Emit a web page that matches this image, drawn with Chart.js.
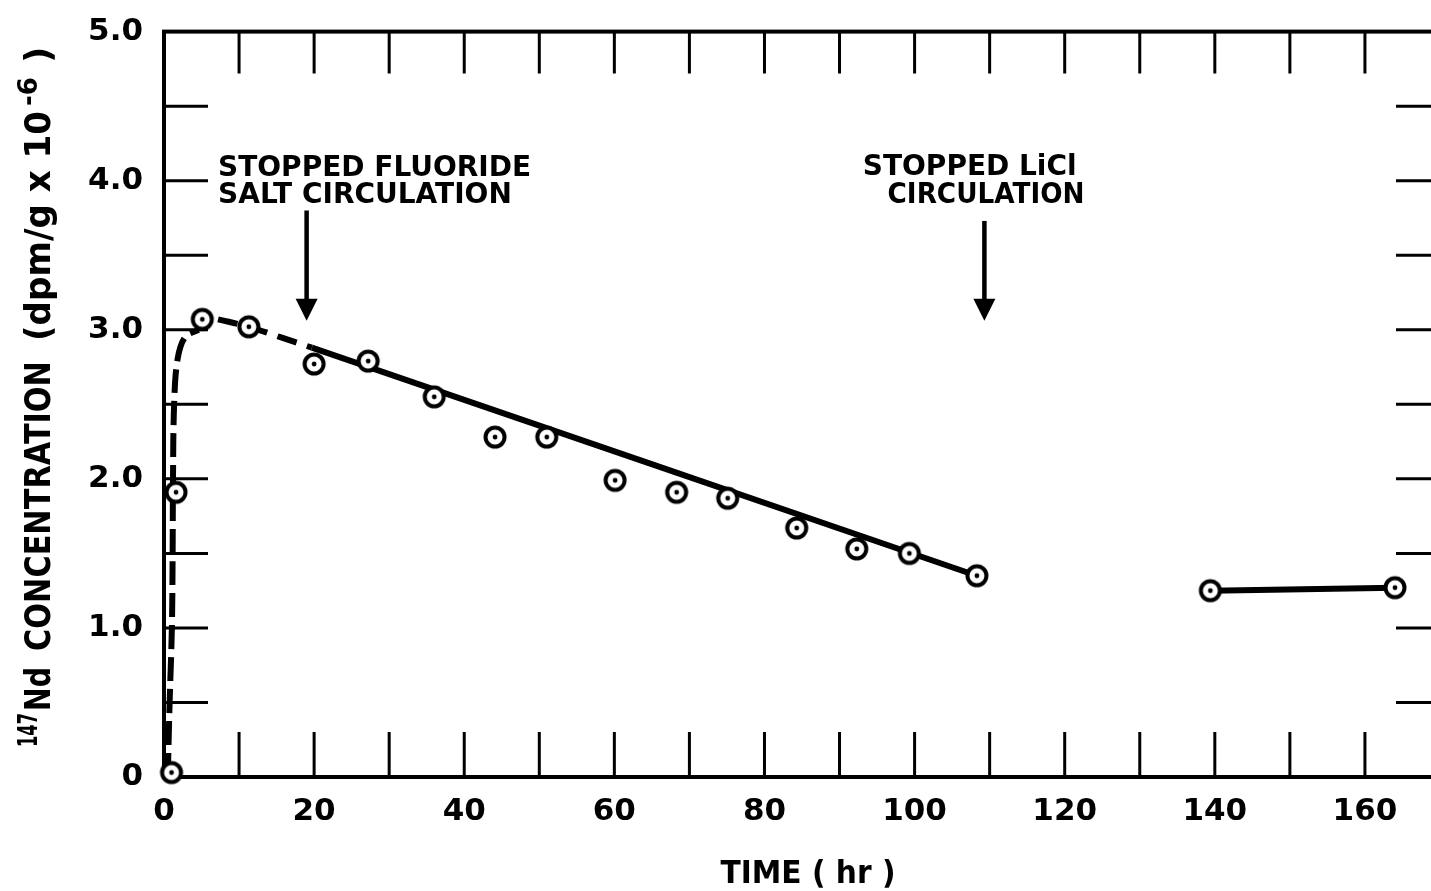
<!DOCTYPE html>
<html>
<head>
<meta charset="utf-8">
<title>147Nd concentration vs time</title>
<script src="https://cdn.jsdelivr.net/npm/chart.js@4.4.1/dist/chart.umd.min.js"></script>
<style>
  html, body { margin: 0; padding: 0; background: #fff; overflow: hidden; }
  #wrap { width: 1460px; height: 891px; }
</style>
</head>
<body>
<div id="wrap"><canvas id="ndChart" width="1460" height="891"></canvas></div>
<script>
// ==========================================
// Sampled 147Nd concentration (dpm/g x 10^-6) against time (hr)
// ==========================================
const sampleHours = [1.0, 1.6, 5.1, 11.3, 20.0, 27.2, 36.0, 44.1, 51.0, 60.1, 68.3, 75.1, 84.3, 92.3, 99.3, 108.3, 139.4, 164.0];
const sampleConc  = [0.03, 1.91, 3.07, 3.02, 2.77, 2.79, 2.55, 2.28, 2.28, 1.99, 1.91, 1.87, 1.67, 1.53, 1.50, 1.35, 1.25, 1.27];

// hand-drawn curves through the samples
const riseHours  = [0.5, 0.75, 1.05, 1.15, 1.2, 1.35, 1.8, 2.8, 4.6];
const riseConc   = [0.0, 0.5, 1.0, 1.5, 2.0, 2.5, 2.8, 2.95, 3.0];
const earlyHours = [7.2, 11.3, 15.5, 19.7];
const earlyConc  = [3.07, 3.02, 2.95, 2.88];
const decayHours = [19.7, 108.3];
const decayConc  = [2.88, 1.35];
const lateHours  = [139.4, 164.0];
const lateConc   = [1.25, 1.27];

// axis labels
const xLabelValues = [0, 20, 40, 60, 80, 100, 120, 140, 160];
const yLabelValues = [0, 1, 2, 3, 4, 5];
const yLabelText   = ['0', '1.0', '2.0', '3.0', '4.0', '5.0'];

// notes with arrows (hr / concentration units)
const notes = [
  { lines: [['STOPPED FLUORIDE', 7.2, 4.03, 316], ['SALT CIRCULATION', 7.2, 3.85, 306]], arrowHr: 19.0, arrowTop: 3.80, arrowTip: 3.06 },
  { lines: [['STOPPED LiCl', 93.1, 4.04, 217], ['CIRCULATION', 96.4, 3.85, 197]], arrowHr: 109.3, arrowTop: 3.73, arrowTip: 3.06 }
];

const FONT = "'DejaVu Sans', sans-serif";

const toPoints = (xs, ys) => xs.map((x, i) => ({ x: x, y: ys[i] }));

// open circle with a dot in the middle
const ringDot = (() => {
  const c = document.createElement('canvas');
  c.width = 28; c.height = 28;
  const g = c.getContext('2d');
  g.beginPath(); g.arc(14, 14, 9.5, 0, Math.PI * 2);
  g.fillStyle = '#fff'; g.fill();
  g.lineWidth = 4; g.strokeStyle = '#000'; g.stroke();
  g.beginPath(); g.arc(14, 14, 2.4, 0, Math.PI * 2);
  g.fillStyle = '#000'; g.fill();
  return c;
})();

// box frame with inward tick marks on all four sides
const framePlugin = {
  id: 'frame',
  beforeDatasetsDraw(chart) {
    const { ctx, chartArea: a, scales: { x, y } } = chart;
    ctx.save();
    ctx.strokeStyle = '#000';
    ctx.lineWidth = 3;
    ctx.beginPath();
    x.ticks.forEach(t => {
      if (t.value <= x.min || t.value >= x.max) return;
      const px = x.getPixelForValue(t.value);
      ctx.moveTo(px, a.bottom); ctx.lineTo(px, a.bottom - 45);
      ctx.moveTo(px, a.top); ctx.lineTo(px, a.top + 42);
    });
    y.ticks.forEach(t => {
      if (t.value <= y.min || t.value >= y.max) return;
      const py = y.getPixelForValue(t.value);
      ctx.moveTo(a.left, py); ctx.lineTo(a.left + 44, py);
      ctx.moveTo(a.right, py); ctx.lineTo(a.right - 44, py);
    });
    ctx.stroke();
    ctx.lineWidth = 4;
    ctx.strokeRect(a.left, a.top, a.right - a.left, a.bottom - a.top);
    ctx.restore();
  }
};

// axis titles, notes and arrows
const notePlugin = {
  id: 'notes',
  afterDatasetsDraw(chart) {
    const { ctx, scales: { x, y } } = chart;
    ctx.save();
    ctx.fillStyle = '#000';
    ctx.strokeStyle = '#000';
    ctx.textBaseline = 'alphabetic';

    ctx.font = 'bold 28px ' + FONT;
    ctx.textAlign = 'left';
    notes.forEach(n => {
      n.lines.forEach(([txt, hr, v, w]) => {
        ctx.fillText(txt, x.getPixelForValue(hr), y.getPixelForValue(v), w);
      });
      const ax = x.getPixelForValue(n.arrowHr);
      const top = y.getPixelForValue(n.arrowTop);
      const tip = y.getPixelForValue(n.arrowTip);
      ctx.lineWidth = 4.5;
      ctx.beginPath(); ctx.moveTo(ax, top); ctx.lineTo(ax, tip - 18); ctx.stroke();
      ctx.beginPath();
      ctx.moveTo(ax - 11, tip - 22); ctx.lineTo(ax + 11, tip - 22); ctx.lineTo(ax, tip);
      ctx.closePath(); ctx.fill();
    });

    // x title
    ctx.font = 'bold 32px ' + FONT;
    ctx.textAlign = 'center';
    ctx.fillText('TIME ( hr )', 808, 883, 175);

    // y title, rotated, with superscripts
    ctx.translate(50, 747);
    ctx.rotate(-Math.PI / 2);
    ctx.textAlign = 'left';
    ctx.font = 'bold 26px ' + FONT;
    ctx.fillText('147', 0, -13, 34);
    ctx.font = 'bold 36px ' + FONT;
    ctx.fillText('Nd', 36, 0, 44);
    ctx.fillText('CONCENTRATION', 96, 0, 290);
    ctx.fillText('(dpm/g x 10', 406, 0, 230);
    ctx.font = 'bold 26px ' + FONT;
    ctx.fillText('-6', 641, -13, 36);
    ctx.font = 'bold 36px ' + FONT;
    ctx.fillText(')', 684, 0, 20);
    ctx.restore();
  }
};

const lineSet = (xs, ys, dash) => ({
  data: toPoints(xs, ys),
  showLine: true,
  borderColor: '#000',
  borderWidth: 6,
  borderDash: dash || [],
  borderCapStyle: 'butt',
  tension: 0.35,
  pointRadius: 0,
  pointHoverRadius: 0
});

new Chart(document.getElementById('ndChart'), {
  type: 'scatter',
  data: {
    datasets: [
      // first dataset is drawn on top
      { data: toPoints(sampleHours, sampleConc), pointStyle: ringDot, pointRadius: 11, showLine: false, clip: false },
      lineSet(decayHours, decayConc),
      lineSet(lateHours, lateConc),
      lineSet(earlyHours, earlyConc, [20, 11]),
      lineSet(riseHours, riseConc, [24, 8])
    ]
  },
  options: {
    responsive: false,
    animation: false,
    events: [],
    layout: { padding: { top: 27, right: 20, left: 0, bottom: 0 } },
    plugins: { legend: { display: false }, tooltip: { enabled: false } },
    scales: {
      x: {
        type: 'linear', min: 0, max: 170,
        afterFit: s => { s.height = 114; },
        grid: { display: false }, border: { display: false },
        ticks: {
          stepSize: 10, autoSkip: false, maxRotation: 0, padding: 8, color: '#000',
          font: { family: FONT, size: 31, weight: 'bold' },
          callback: v => xLabelValues.includes(v) ? String(v) : ''
        }
      },
      y: {
        type: 'linear', min: 0, max: 5,
        afterFit: s => { s.width = 164; },
        grid: { display: false }, border: { display: false },
        ticks: {
          stepSize: 0.5, autoSkip: false, padding: 13, color: '#000',
          font: { family: FONT, size: 31, weight: 'bold' },
          callback: v => { const i = yLabelValues.indexOf(v); return i >= 0 ? yLabelText[i] : ''; }
        }
      }
    }
  },
  plugins: [framePlugin, notePlugin]
});
</script>
</body>
</html>
